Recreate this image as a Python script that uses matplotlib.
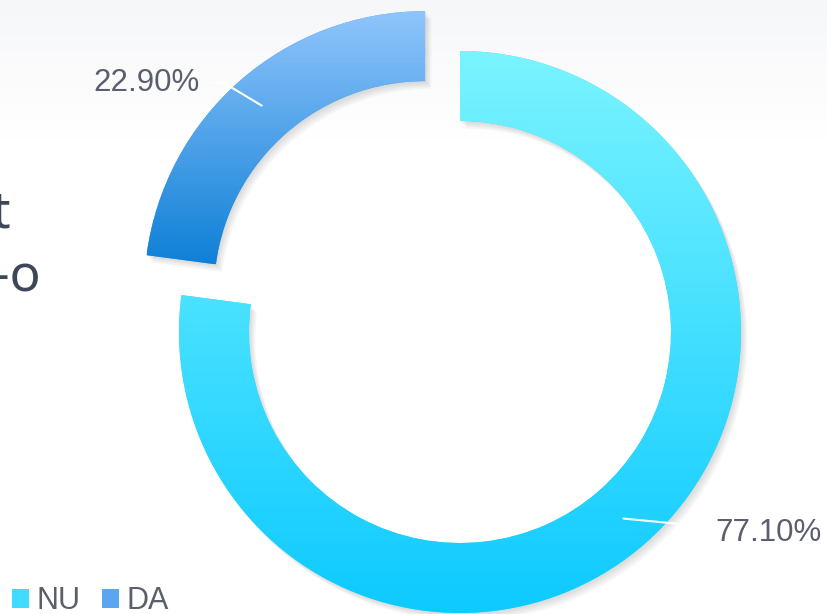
import numpy as np
import matplotlib
matplotlib.use('Agg')
import matplotlib.pyplot as plt
from matplotlib.patches import Patch, Shadow
from matplotlib.colors import to_rgb

# data
labels = ['NU', 'DA']
shares = [77.10, 22.90]
pct_text = ['77.10%', '22.90%']
top_colors = ['#7af4ff', '#90c5fc']
bottom_colors = ['#0dcaff', '#0f80d6']
legend_colors = ['#3fdcff', '#5ba6ee']

W, H = 827, 614
cx, cy = 460, H - 332
R, ring = 281, 70

fig = plt.figure(figsize=(W / 100, H / 100), dpi=100)
ax = fig.add_axes([0, 0, 1, 1])


def vgrad(c_bottom, c_top, n=256):
    a, b = np.array(to_rgb(c_bottom)), np.array(to_rgb(c_top))
    t = np.linspace(0, 1, n)[:, None]
    return (a + (b - a) * t)[:, None, :]


# light band at the top of the slide
band = vgrad('#ffffff', '#f6f7f9')
ax.imshow(band, extent=(0, W, H - 140, H), origin='lower', aspect='auto', zorder=0)

wedges, _ = ax.pie(shares, radius=R, center=(cx, cy), startangle=90,
                   counterclock=False, explode=[0, 53],
                   colors=legend_colors,
                   wedgeprops=dict(width=ring, linewidth=0))

for i, w in enumerate(wedges):
    w.set_zorder(2)
    # soft drop shadow
    for k in range(1, 6):
        s = Shadow(w, k * 0.9, -k * 1.1, facecolor='#707070', edgecolor='none', alpha=0.05)
        s.set_zorder(1)
        ax.add_patch(s)
    ext = w.get_path().get_extents()
    im = ax.imshow(vgrad(bottom_colors[i], top_colors[i]),
                   extent=(ext.x0, ext.x1, ext.y0, ext.y1),
                   origin='lower', aspect='auto', zorder=3)
    im.set_clip_path(w)

# data labels with leader lines
offsets = [(92, -14), (-62, 23)]
connectors = ['arc3,rad=0', 'angle,angleA=0,angleB=-31,rad=0']
for i, w in enumerate(wedges):
    mid = np.deg2rad((w.theta1 + w.theta2) / 2)
    px = w.center[0] + 248 * np.cos(mid)
    py = w.center[1] + 248 * np.sin(mid)
    ax.annotate(pct_text[i], xy=(px, py), xytext=offsets[i], textcoords='offset pixels',
                ha='left' if offsets[i][0] > 0 else 'right', va='center',
                fontsize=22.5, family='Liberation Sans', color='#5b5f6c', zorder=5,
                arrowprops=dict(arrowstyle='-', color='white', lw=1.5,
                                connectionstyle=connectors[i],
                                shrinkA=6, shrinkB=0))

# clipped slide text on the left
ax.text(10, H - 228, 't', ha='right', va='baseline', fontsize=37,
        family='Noto Sans', color='#3d4759', zorder=4)
ax.text(41, H - 292, '-o', ha='right', va='baseline', fontsize=37,
        family='Noto Sans', color='#3d4759', zorder=4)

handles = [Patch(facecolor=c, edgecolor='none', label=l) for c, l in zip(legend_colors, labels)]
ax.legend(handles=handles, loc='lower left', bbox_to_anchor=(0.015, -0.004), ncol=2,
          frameon=False, prop=dict(family='Liberation Sans', size=22),
          labelcolor='#5b5f6c', handlelength=0.55, handleheight=0.55,
          handletextpad=0.25, columnspacing=0.7, borderaxespad=0, borderpad=0)

ax.set_xlim(0, W)
ax.set_ylim(0, H)
ax.set_aspect('equal')
ax.axis('off')

fig.savefig('out.png', dpi=100)
